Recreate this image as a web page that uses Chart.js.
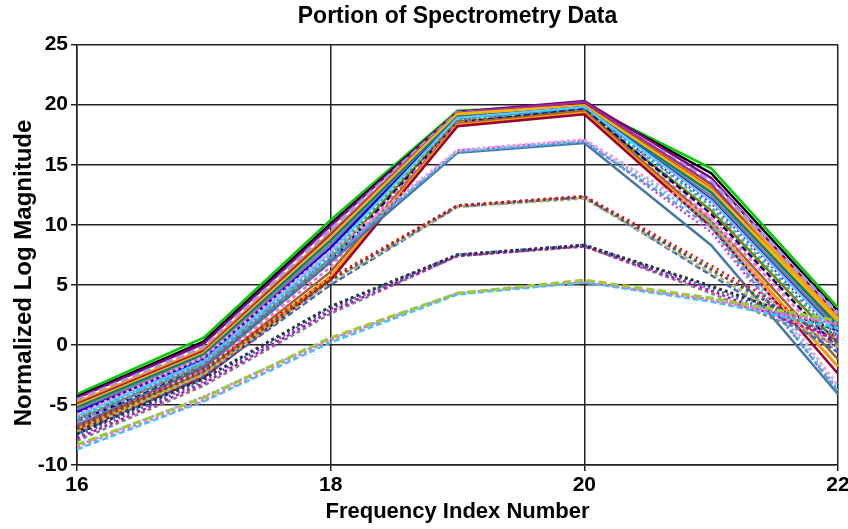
<!DOCTYPE html>
<html><head><meta charset="utf-8">
<script src="https://cdn.jsdelivr.net/npm/chart.js@4"></script>
<style>html,body{margin:0;padding:0;background:#fff;overflow:hidden}</style>
</head><body>
<canvas id="c" width="848" height="529" style="width:848px;height:529px;display:block"></canvas>
<script>
// ---- data ----
const frequencyIndex = [16, 17, 18, 19, 20, 21, 22];
const xTickValues = [16, 18, 20, 22];
const yTickValues = [-10, -5, 0, 5, 10, 15, 20, 25];
const chartTitle = 'Portion of Spectrometry Data';
const xAxisTitle = 'Frequency Index Number';
const yAxisTitle = 'Normalized Log Magnitude';

// spectra peaking near 5
const groupPeak5 = [
  [-8.3, -4.4, 0.6, 4.3, 5.4, 3.9, 2.0],
  [-8.5, -4.6, 0.4, 4.3, 5.3, 3.7, 1.7],
  [-8.7, -4.7, 0.2, 4.2, 5.2, 3.6, 1.4],
  [-8.4, -4.3, 0.5, 4.3, 5.2, 3.8, 1.8]
];
// spectra peaking near 8
const groupPeak8 = [
  [-7.4, -2.8, 3.2, 7.5, 8.3, 4.9, 1.2],
  [-7.6, -3.0, 3.0, 7.5, 8.3, 4.7, 0.8],
  [-7.8, -3.2, 2.8, 7.4, 8.2, 4.5, 0.4],
  [-8.0, -3.4, 2.6, 7.4, 8.2, 4.3, 0.0]
];
// spectra peaking near 12
const groupPeak12 = [
  [-6.8, -2.0, 5.6, 11.6, 12.4, 6.6, 0.6],
  [-7.0, -2.2, 5.4, 11.6, 12.3, 6.3, 0.2],
  [-7.2, -2.4, 5.2, 11.5, 12.2, 6.0, -0.2],
  [-7.4, -2.6, 5.0, 11.5, 12.3, 5.8, -0.6]
];
// spectra peaking near 17
const groupPeak17 = [
  [-5.8, -1.0, 7.8, 16.2, 17.1, 10.6, -3.4],
  [-6.1, -1.3, 7.5, 16.1, 17.0, 10.2, -3.7],
  [-6.4, -1.6, 7.2, 16.1, 16.9, 9.8, -3.9],
  [-6.7, -1.9, 6.9, 16.0, 16.8, 8.3, -4.1],
  [-6.2, -1.5, 7.3, 16.2, 17.0, 9.4, -3.8]
];
// spectra peaking near 20
const groupPeak20 = [
  [-7.2, -2.7, 5.4, 18.2, 19.2, 9.8, -2.4],
  [-7.0, -2.5, 5.7, 18.3, 19.3, 10.0, -1.8],
  [-6.8, -2.3, 6.1, 18.4, 19.5, 10.3, -1.2],
  [-6.6, -2.1, 6.5, 18.5, 19.3, 10.6, -0.7],
  [-6.4, -1.9, 6.9, 18.5, 19.6, 10.9, -0.3],
  [-6.2, -1.7, 7.2, 18.6, 19.4, 11.2, 0.1],
  [-6.0, -1.5, 7.5, 18.7, 19.7, 11.5, 0.4],
  [-5.9, -1.4, 7.7, 18.9, 19.8, 12.0, 0.9],
  [-5.8, -1.3, 7.8, 18.8, 19.5, 11.8, 0.7],
  [-5.6, -1.2, 8.1, 18.9, 19.8, 12.1, 1.0],
  [-5.4, -1.0, 8.4, 18.9, 19.6, 12.4, 1.3],
  [-5.2, -0.8, 8.7, 19.0, 19.7, 12.7, 1.6],
  [-5.1, -0.7, 8.9, 19.2, 19.9, 12.9, 2.0],
  [-5.0, -0.6, 9.0, 19.1, 20.0, 13.0, 1.9],
  [-4.9, -0.5, 9.2, 19.3, 20.2, 13.4, 1.5],
  [-4.8, -0.4, 9.3, 19.2, 19.8, 13.3, 2.2],
  [-4.6, -0.2, 9.6, 19.3, 19.9, 13.6, 2.6],
  [-4.4, 0.1, 9.9, 19.4, 20.3, 13.9, 2.4],
  [-4.3, 0.3, 10.1, 19.4, 20.1, 14.3, 2.8],
  [-4.1, 0.6, 10.4, 19.5, 20.0, 14.7, 3.1]
];

// ---- styles ----
const stylesPeak5 = [
  {c:'#99CC33', d:[8,4], w:3}, {c:'#FF66CC', d:[3,3], w:2.5}, {c:'#33CCFF', d:[6,3], w:2.5}, {c:'#9999FF', d:[3,2], w:2.5}
];
const stylesPeak8 = [
  {c:'#333333', d:[3,3], w:3}, {c:'#3366CC', d:[2,3], w:3}, {c:'#CC00CC', d:[3,3], w:2.5}, {c:'#808080', d:[4,3], w:2.5}
];
const stylesPeak12 = [
  {c:'#FF0000', d:[2,4], w:2.5}, {c:'#555555', d:[3,3], w:3}, {c:'#BDB76B', d:[4,3], w:3}, {c:'#3366CC', d:[6,3], w:2.5}
];
const stylesPeak17 = [
  {c:'#FF99CC', d:[3,3], w:3}, {c:'#33CCFF', d:[2,3], w:3}, {c:'#6699CC', d:[5,3], w:2.5}, {c:'#4477AA', d:[], w:2.5}, {c:'#CC33FF', d:[2,3], w:2.5}
];
const stylesPeak20 = [
  {c:'#990033', d:[], w:2.5}, {c:'#FF9900', d:[], w:3}, {c:'#996633', d:[], w:2.5}, {c:'#FF66CC', d:[4,3], w:2.5},
  {c:'#000080', d:[6,3], w:2.5}, {c:'#808000', d:[], w:2.5}, {c:'#00CCCC', d:[3,3], w:2.5}, {c:'#66CCFF', d:[], w:2.5},
  {c:'#CC00CC', d:[2,3], w:2.5}, {c:'#0000FF', d:[], w:2.5}, {c:'#808080', d:[], w:2.5}, {c:'#008080', d:[], w:2.5},
  {c:'#FFB300', d:[], w:3.5}, {c:'#990000', d:[], w:2.5}, {c:'#993399', d:[], w:2.5}, {c:'#FF9900', d:[], w:3.5},
  {c:'#9999FF', d:[8,4], w:4}, {c:'#800080', d:[], w:2.5}, {c:'#000000', d:[], w:2.5}, {c:'#00CC00', d:[], w:2.5}
];

const groups = [
  [groupPeak5, stylesPeak5], [groupPeak8, stylesPeak8], [groupPeak12, stylesPeak12],
  [groupPeak17, stylesPeak17], [groupPeak20, stylesPeak20]
];
const datasets = [];
groups.forEach(([rows, sty]) => {
  rows.forEach((vals, i) => {
    const s = sty[i % sty.length];
    datasets.push({
      data: vals.map((v, k) => ({x: frequencyIndex[k], y: v})),
      borderColor: s.c, borderDash: s.d, borderWidth: s.w,
      pointRadius: 0, tension: 0, fill: false
    });
  });
});

const FONT = 'Liberation Sans, Arial, sans-serif';
const gridColor = '#222222';

// y-axis title, drawn a little below the axis centre as in the reference
const yTitlePlugin = {
  id: 'yTitle',
  afterDraw(chart) {
    const ctx = chart.ctx;
    ctx.save();
    ctx.translate(24, 273);
    ctx.rotate(-Math.PI / 2);
    ctx.font = 'bold 24px ' + FONT;
    ctx.fillStyle = '#000';
    ctx.textAlign = 'center';
    ctx.textBaseline = 'middle';
    ctx.fillText(yAxisTitle, 0, 0);
    ctx.restore();
  }
};

new Chart(document.getElementById('c'), {
  type: 'line',
  data: { datasets },
  plugins: [yTitlePlugin],
  options: {
    responsive: false,
    animation: false,
    events: [],
    layout: { padding: { left: 0, right: 10, top: 0, bottom: 0 } },
    plugins: {
      legend: { display: false },
      tooltip: { enabled: false },
      title: {
        display: true, fullSize: false,
        text: chartTitle,
        color: '#000', font: { family: FONT, size: 23, weight: 'bold' },
        padding: { top: 3, bottom: 14 }
      }
    },
    scales: {
      x: {
        type: 'linear', min: 16, max: 22,
        afterBuildTicks: s => { s.ticks = xTickValues.map(v => ({value: v})); },
        afterFit: s => { s.paddingLeft = 0; s.paddingRight = 0; s.height = 64; },
        ticks: { color: '#000', font: { family: FONT, size: 21, weight: 'bold' }, padding: 2, maxRotation: 0, autoSkip: false },
        grid: { color: gridColor, lineWidth: 1.5, tickLength: 6 },
        border: { color: gridColor, width: 1.5 },
        title: { display: true, text: xAxisTitle, color: '#000',
                 font: { family: FONT, size: 22, weight: 'bold' }, padding: { top: 0, bottom: 4 } }
      },
      y: {
        type: 'linear', min: -10, max: 25,
        afterBuildTicks: s => { s.ticks = yTickValues.map(v => ({value: v})); },
        afterFit: s => { s.width = 77; },
        ticks: { color: '#000', font: { family: FONT, size: 21, weight: 'bold' }, padding: 3 },
        grid: { color: gridColor, lineWidth: 1.5, tickLength: 6 },
        border: { color: gridColor, width: 1.5 },
        title: { display: false }
      }
    }
  }
});
</script>
</body></html>
